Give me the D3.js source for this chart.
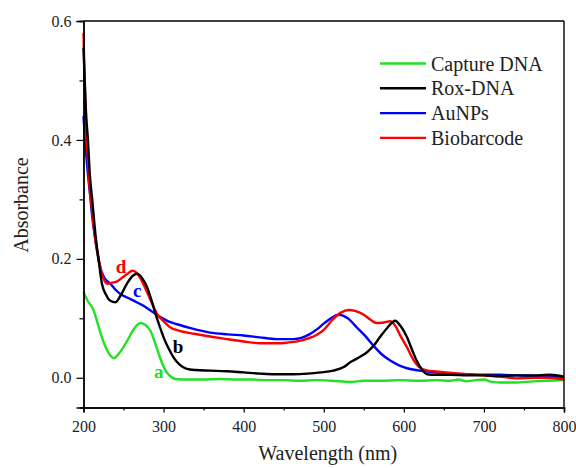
<!DOCTYPE html>
<html><head><meta charset="utf-8">
<script src="https://cdn.jsdelivr.net/npm/d3@7"></script>
<style>body{margin:0;background:#fff}svg{display:block}svg text{font-family:"Liberation Serif","Times New Roman",serif !important}</style>
</head><body><svg id="c" width="576" height="468"></svg>
<script>
const seriesNames = ["Capture DNA","Rox-DNA","AuNPs","Biobarcode"];
const seriesColors = ["#22e022","#000000","#0000ff","#ff0000"];
const curveLabels = ["a","b","c","d"];
const xTicks = [200,300,400,500,600,700,800];
const yTicks = [0.0,0.2,0.4,0.6];

const captureDNA = [[200,0.144],[205,0.13],[212.8,0.113],[218,0.09],[223,0.068],[230,0.045],[237.8,0.033],[245,0.042],[254.5,0.062],[262,0.08],[271,0.092],[278,0.088],[283.6,0.079],[289,0.06],[294,0.04],[299,0.022],[304,0.009],[310,0.001],[315,-0.002],[330,-0.003],[350,-0.003],[370,-0.002],[390,-0.003],[410,-0.003],[430,-0.004],[450,-0.004],[470,-0.005],[490,-0.004],[510,-0.005],[533,-0.007],[550,-0.005],[570,-0.005],[595,-0.004],[620,-0.005],[640,-0.004],[658,-0.005],[668,-0.003],[678,-0.006],[690,-0.004],[700,-0.003],[710,-0.007],[720,-0.008],[740,-0.008],[762,-0.006],[780,-0.005],[800,-0.004]];
const roxDNA = [[200,0.555],[201,0.52],[203,0.45],[205.5,0.40],[208,0.34],[211,0.298],[215,0.24],[219,0.197],[223,0.158],[228,0.14],[233,0.13],[240,0.127],[247,0.14],[255,0.16],[262,0.172],[267,0.175],[273,0.168],[279.5,0.152],[285,0.13],[290,0.107],[295,0.087],[300,0.068],[306,0.05],[312.6,0.034],[320,0.022],[329,0.015],[340,0.013],[358,0.012],[379,0.011],[400,0.009],[421,0.007],[440,0.006],[462,0.006],[480,0.007],[496,0.009],[512,0.012],[525,0.018],[533,0.026],[545,0.035],[554,0.043],[563,0.055],[570,0.068],[580,0.085],[589,0.096],[596,0.087],[604,0.068],[610,0.048],[616,0.029],[622,0.015],[629,0.006],[640,0.005],[658,0.005],[680,0.004],[700,0.004],[720,0.003],[740,0.004],[760,0.004],[782,0.005],[800,0.002]];
const auNPs = [[200,0.44],[202,0.40],[205,0.35],[208,0.31],[211,0.27],[215,0.23],[220,0.19],[226,0.168],[233.7,0.158],[240,0.148],[247,0.14],[254.5,0.135],[265,0.128],[275,0.121],[285,0.112],[296,0.102],[306,0.095],[317,0.09],[335,0.083],[358,0.076],[380,0.073],[400,0.071],[420,0.068],[441,0.065],[462,0.065],[472,0.067],[482,0.073],[491,0.081],[500,0.091],[510,0.101],[518.5,0.106],[530,0.1],[541,0.085],[552,0.07],[562,0.054],[572,0.04],[583,0.029],[594,0.021],[604,0.016],[620,0.012],[640,0.009],[660,0.007],[679,0.006],[700,0.005],[720,0.005],[740,0.004],[762,0.003],[780,0.002],[800,0.001]];
const biobarcode = [[200,0.58],[201,0.52],[203,0.42],[205,0.38],[207,0.33],[210,0.29],[214,0.24],[219,0.2],[224,0.17],[230,0.158],[236,0.16],[242,0.162],[248,0.168],[255,0.175],[261,0.18],[266,0.177],[272,0.165],[278,0.148],[284,0.13],[292,0.107],[300,0.095],[308,0.085],[320,0.079],[338,0.074],[360,0.069],[379,0.065],[400,0.061],[421,0.058],[440,0.058],[454,0.059],[470,0.062],[480,0.066],[491,0.072],[501,0.082],[512,0.099],[522,0.11],[531,0.114],[540,0.112],[550,0.106],[558,0.098],[566,0.092],[575,0.093],[583,0.095],[589,0.088],[596,0.07],[604,0.051],[612,0.03],[620,0.017],[630,0.012],[637,0.011],[660,0.008],[679,0.006],[700,0.004],[720,0.002],[741,-0.001],[762,0.0],[780,0.0],[800,-0.003]];
const seriesData = [captureDNA, roxDNA, auNPs, biobarcode];
// label anchor points (wavelength, absorbance) for a,b,c,d
const labelPos = [[294,0.0],[318,0.042],[267,0.136],[247,0.177]];

const FONT = "Liberation Serif, Times New Roman, serif";
const svg = d3.select("#c");
const L=83.5, R=564, T=21, B=407.5;
const x = d3.scaleLinear().domain([200,800]).range([L,R]);
const y = d3.scaleLinear().domain([-0.05,0.6]).range([B,T]);

const g = svg.append("g");
const line = d3.line().x(d=>x(d[0])).y(d=>y(d[1])).curve(d3.curveMonotoneX);
const order = [0,2,3,1];
order.forEach(i=>{
  g.append("path").datum(seriesData[i]).attr("d",line)
   .attr("fill","none").attr("stroke",seriesColors[i]).attr("stroke-width",2.4)
   .attr("stroke-linejoin","round");
});

// frame
svg.append("line").attr("x1",L).attr("x2",R).attr("y1",T).attr("y2",T).attr("stroke","#000").attr("stroke-width",1.4);
svg.append("line").attr("x1",R).attr("x2",R).attr("y1",T).attr("y2",B).attr("stroke","#000").attr("stroke-width",1.4);

// axes
const xAxis = d3.axisBottom(x).tickValues(xTicks).tickFormat(d3.format("d")).tickSize(5).tickPadding(8);
svg.append("g").attr("transform",`translate(0,${B})`).call(xAxis).attr("font-family",FONT).attr("font-size",16);
const xMinor = d3.axisBottom(x).tickValues([250,350,450,550,650,750]).tickFormat("").tickSize(3);
svg.append("g").attr("transform",`translate(0,${B})`).call(xMinor);
const yAxis = d3.axisLeft(y).tickValues(yTicks).tickFormat(d3.format(".1f")).tickSize(7).tickPadding(5);
svg.append("g").attr("transform",`translate(${L},0)`).call(yAxis).attr("font-family",FONT).attr("font-size",16);
const yMinor = d3.axisLeft(y).tickValues([0.1,0.3,0.5]).tickFormat("").tickSize(4);
svg.append("g").attr("transform",`translate(${L},0)`).call(yMinor);
svg.selectAll(".domain").attr("stroke","#000").attr("stroke-width",1.4);
svg.selectAll(".tick line").attr("stroke","#000").attr("stroke-width",1.2);
svg.selectAll(".tick text").attr("fill","#222");

// axis titles
svg.append("text").attr("x",(L+R)/2+4).attr("y",460).attr("text-anchor","middle")
  .attr("font-family",FONT).attr("font-size",20).attr("fill","#222").text("Wavelength (nm)");
svg.append("text").attr("transform",`translate(28,205) rotate(-90)`).attr("text-anchor","middle")
  .attr("font-family",FONT).attr("font-size",20).attr("fill","#222").text("Absorbance");

// legend
const lg = svg.append("g");
seriesNames.forEach((n,i)=>{
  const yy = 63.5 + i*24.8;
  lg.append("line").attr("x1",380).attr("x2",426).attr("y1",yy).attr("y2",yy)
    .attr("stroke",seriesColors[i]).attr("stroke-width",2.4);
  lg.append("text").attr("x",431).attr("y",yy+7).attr("font-family",FONT).attr("font-size",20).attr("fill","#222").text(n);
});

// curve labels
curveLabels.forEach((c,i)=>{
  svg.append("text").attr("x",x(labelPos[i][0])).attr("y",y(labelPos[i][1]))
    .attr("text-anchor","middle").attr("font-family",FONT).attr("font-size",19).attr("font-weight","bold")
    .attr("fill",seriesColors[i]).text(c);
});
</script></body></html>
